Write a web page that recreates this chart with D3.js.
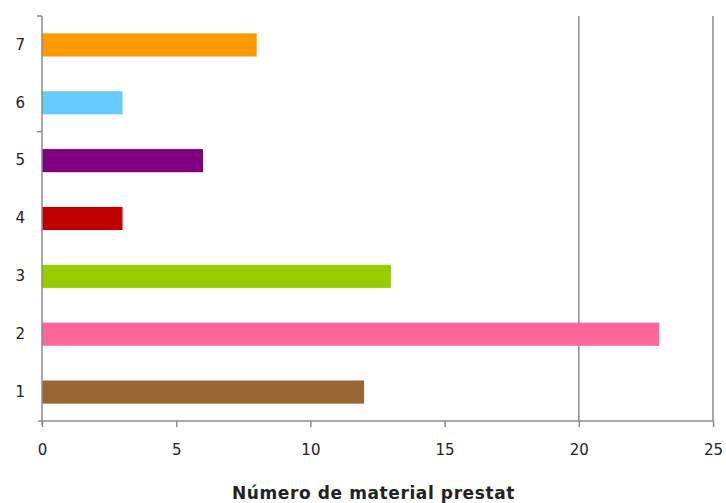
<!DOCTYPE html>
<html>
<head>
<meta charset="utf-8">
<script src="https://cdn.jsdelivr.net/npm/d3@7"></script>
<style>
    body { margin: 0; background: #fff; }
    svg text { font-family: "DejaVu Sans", sans-serif; fill: #222; }
</style>
</head>
<body>
<svg id="chart" width="726" height="503"></svg>
<script>
/**
 * Data.
 */
const categories = ['1', '2', '3', '4', '5', '6', '7'];
const values = [12, 23, 13, 3, 6, 3, 8];
const colors = ['#996633', '#FF6699', '#99CC00', '#C00000', '#800080', '#66CCFF', '#FF9900'];
const xTicks = [0, 5, 10, 15, 20, 25];
const gridValues = [20, 25];
const xTitle = 'Número de material prestat';

/**
 * Visual configs.
 */
const margin = { top: 16, right: 13, bottom: 82, left: 42 },
    visWidth = 726, visHeight = 503,
    width = visWidth - margin.left - margin.right,
    height = visHeight - margin.top - margin.bottom;

const svg = d3.select('#chart');
const g = svg.append('g').attr('transform', 'translate(' + margin.left + ',' + margin.top + ')');

const xScale = d3.scaleLinear().domain([0, 25]).range([0, width]);
const yScale = d3.scaleBand().domain(categories.slice().reverse()).range([0, height]).paddingInner(0.6).paddingOuter(0.3);
const data = categories.map((c, i) => ({ cat: c, value: values[i], color: colors[i] }));

// Grid lines
g.selectAll('line.grid').data(gridValues)
    .enter().append('line')
        .attr('class', 'grid')
        .attr('x1', d => xScale(d)).attr('x2', d => xScale(d))
        .attr('y1', 0).attr('y2', height)
        .attr('stroke', '#8c8c8c').attr('stroke-width', 1.5);

// Bars
g.selectAll('rect.bar').data(data)
    .enter().append('rect')
        .attr('class', 'bar')
        .attr('x', xScale(0))
        .attr('y', d => yScale(d.cat))
        .attr('width', d => xScale(d.value) - xScale(0))
        .attr('height', yScale.bandwidth())
        .attr('fill', d => d.color);

// X axis
const xAxis = d3.axisBottom(xScale).tickValues(xTicks).tickSize(6).tickPadding(17);
const xg = g.append('g').attr('transform', 'translate(0,' + height + ')').call(xAxis);
xg.select('.domain').attr('stroke', '#8c8c8c').attr('stroke-width', 1.5).attr('d', 'M-4,0H' + width);
xg.selectAll('.tick line').attr('stroke', '#8c8c8c').attr('stroke-width', 1.5);
xg.selectAll('.tick text').style('font-size', '15px').attr('fill', '#222');

// Y axis
const yAxis = d3.axisLeft(yScale).tickSize(0).tickPadding(17);
const yg = g.append('g').call(yAxis);
yg.select('.domain').attr('stroke', '#8c8c8c').attr('stroke-width', 1.5).attr('d', 'M0,0V' + (height + 4));
yg.selectAll('.tick text').style('font-size', '15px').attr('fill', '#222');

// Category boundary marks on the y axis
const step = yScale.step();
const boundaryMarks = [0, 2];
yg.selectAll('line.mark').data(boundaryMarks)
    .enter().append('line')
        .attr('class', 'mark')
        .attr('x1', -5).attr('x2', 0)
        .attr('y1', d => d * step).attr('y2', d => d * step)
        .attr('stroke', '#8c8c8c').attr('stroke-width', 1.5);

// Axis title
svg.append('text')
    .attr('x', margin.left + width / 2 - 4)
    .attr('y', 499)
    .attr('text-anchor', 'middle')
    .style('font-size', '17px')
    .style('font-weight', 'bold')
    .style('letter-spacing', '0.6px')
    .attr('fill', '#000')
    .text(xTitle);
</script>
</body>
</html>
